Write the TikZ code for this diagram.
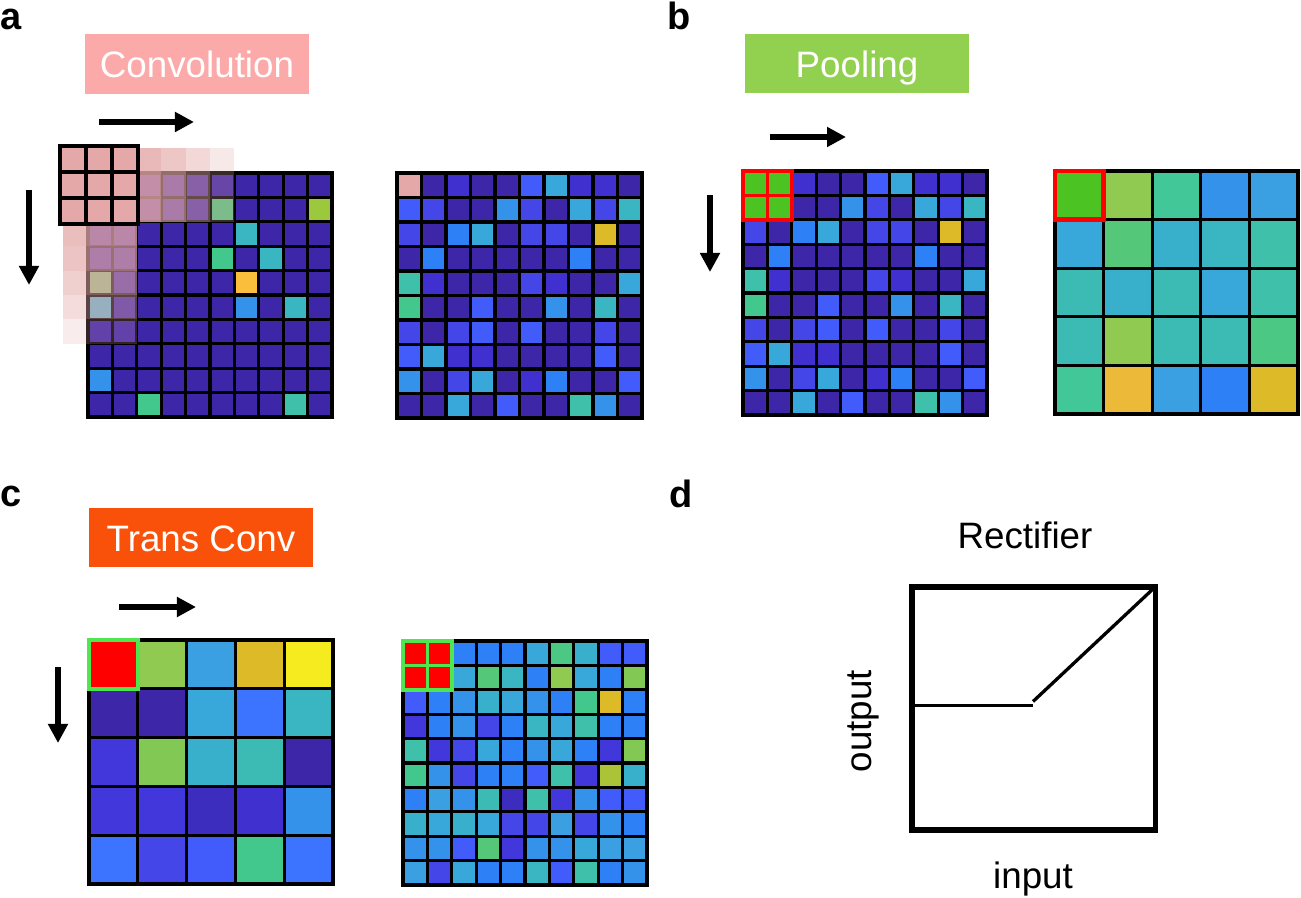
\documentclass[tikz,border=0pt]{standalone}
\usepackage{fontspec}
\setmainfont{Liberation Sans}
\usetikzlibrary{arrows.meta}
\definecolor{cD}{RGB}{62,38,168}
\definecolor{cDb}{RGB}{60,45,190}
\definecolor{cIa}{RGB}{65,48,208}
\definecolor{cIb}{RGB}{68,70,232}
\definecolor{cIc}{RGB}{65,55,218}
\definecolor{cBa}{RGB}{65,92,250}
\definecolor{cBb}{RGB}{46,128,246}
\definecolor{cBc}{RGB}{52,146,234}
\definecolor{cBd}{RGB}{60,115,255}
\definecolor{cCa}{RGB}{56,168,218}
\definecolor{cCb}{RGB}{58,160,225}
\definecolor{cCc}{RGB}{56,176,204}
\definecolor{cCd}{RGB}{58,182,194}
\definecolor{cTa}{RGB}{62,192,170}
\definecolor{cTb}{RGB}{60,187,180}
\definecolor{cGa}{RGB}{66,200,140}
\definecolor{cGb}{RGB}{84,200,120}
\definecolor{cGc}{RGB}{66,200,152}
\definecolor{cGd}{RGB}{75,200,132}
\definecolor{cLa}{RGB}{145,202,80}
\definecolor{cLb}{RGB}{130,200,85}
\definecolor{cYG}{RGB}{155,200,60}
\definecolor{cOl}{RGB}{170,195,55}
\definecolor{cY}{RGB}{220,186,40}
\definecolor{cOa}{RGB}{250,190,60}
\definecolor{cOb}{RGB}{236,186,56}
\definecolor{cYY}{RGB}{245,235,30}
\definecolor{cGr}{RGB}{75,196,35}
\definecolor{cPk}{RGB}{228,168,168}
\definecolor{cUa}{RGB}{140,195,130}
\definecolor{cUb}{RGB}{100,180,205}
\definecolor{cUc}{RGB}{90,195,130}
\definecolor{cRd}{RGB}{255,0,0}
\definecolor{cGf}{RGB}{80,230,80}
\definecolor{convpink}{RGB}{252,169,169}
\definecolor{poolgreen}{RGB}{146,208,80}
\definecolor{transorange}{RGB}{249,80,10}
\newcommand\mygrid[5]{%
  \foreach \rowl [count=\ri from 0] in {#5} {%
    \foreach \cc [count=\ki from 0] in \rowl {%
      \filldraw[cell, fill=\cc] ({#1+\ki*#3},{#2+\ri*#3}) rectangle ++(#3,#3);
    }%
  }%
  \draw[gridframe] (#1,#2) rectangle ++({#4*#3},{#4*#3});
}
\tikzset{
  cell/.style={draw=black, line width=0.033cm},
  gridframe/.style={draw=black, line width=0.045cm},
  txt/.style={font=\fontsize{10.45}{12}\selectfont},
  panel/.style={font=\fontsize{10.8}{12}\selectfont\bfseries, anchor=base west, inner sep=0},
  titlebox/.style={txt, text=white, minimum width=2.24cm, minimum height=0.595cm, inner sep=0,
    text height=0.3cm, text depth=0.02cm},
  bigarrow/.style={line width=0.06cm, -{Triangle[length=0.19cm,width=0.19cm]}},
}
\begin{document}
\begin{tikzpicture}[x=0.01cm, y=-0.01cm]
\useasboundingbox (0,0) rectangle (1301,898);
% panel labels
\node[panel] (la) at (0,30) {a};
\node[panel] (lb) at (667,30) {b};
\node[panel] (lc) at (0,507) {c};
\node[panel] (ld) at (669,508) {d};
% title boxes
\node[titlebox, fill=convpink] (conv) at (197,64) {Convolution};
\node[titlebox, fill=poolgreen] (pool) at (857,63.5) {Pooling};
\node[titlebox, fill=transorange] (trans) at (201,537.5) {Trans Conv};
% arrows
\coordinate (a1s) at (99,122); \coordinate (a1e) at (194,122);
\coordinate (a2s) at (29,190); \coordinate (a2e) at (29,285);
\coordinate (b1s) at (770,137); \coordinate (b1e) at (846,137);
\coordinate (b2s) at (710,195); \coordinate (b2e) at (710,272);
\coordinate (c1s) at (119,607); \coordinate (c1e) at (196,607);
\coordinate (c2s) at (58,667); \coordinate (c2e) at (58,743);
\draw[bigarrow] (a1s) -- (a1e);
\draw[bigarrow] (a2s) -- (a2e);
\draw[bigarrow] (b1s) -- (b1e);
\draw[bigarrow] (b2s) -- (b2e);
\draw[bigarrow] (c1s) -- (c1e);
\draw[bigarrow] (c2s) -- (c2e);
% ---------- panel a input ----------
\mygrid{88}{173}{24.4}{10}{
 {cD,cD,cD,cD,cD,cD,cD,cD,cD,cD},
 {cD,cD,cD,cD,cD,cUc,cD,cD,cD,cYG},
 {cD,cD,cD,cD,cD,cD,cCd,cD,cD,cD},
 {cD,cD,cD,cD,cD,cGa,cD,cCd,cD,cD},
 {cUa,cD,cD,cD,cD,cD,cOa,cD,cD,cD},
 {cUb,cD,cD,cD,cD,cD,cBc,cD,cCd,cD},
 {cD,cD,cD,cD,cD,cD,cD,cD,cD,cD},
 {cD,cD,cD,cD,cD,cD,cD,cD,cD,cD},
 {cBc,cD,cD,cD,cD,cD,cD,cD,cD,cD},
 {cD,cD,cGa,cD,cD,cD,cD,cD,cTa,cD}}
% sliding trail
\foreach \j/\op in {0/0.8,1/0.65,2/0.45,3/0.25}
  \fill[cPk, opacity=\op] ({136.8+\j*24.4},148) rectangle ++(24.4,73.8);
\foreach \j/\op in {0/0.75,1/0.68,2/0.55,3/0.4,4/0.22}
  \fill[cPk, opacity=\op] (63.4,{221.8+\j*24.4}) rectangle (137,{221.8+(\j+1)*24.4});
% kernel
\foreach \i in {0,1,2}
  \foreach \j in {0,1,2}
    \filldraw[cell, fill=cPk] ({60+\i*26},{146+\j*26}) rectangle ++(26,26);
\draw[gridframe] (60,146) rectangle (138,224);
% ---------- panel a output ----------
\mygrid{397}{173}{24.5}{10}{
 {cPk,cD,cIa,cD,cD,cBa,cCa,cIa,cIa,cD},
 {cBa,cIb,cD,cD,cBc,cIb,cD,cCa,cIb,cCd},
 {cIb,cD,cBb,cCa,cD,cIb,cIb,cD,cY,cD},
 {cD,cBb,cD,cD,cD,cD,cD,cBb,cD,cD},
 {cTa,cIa,cD,cD,cD,cIb,cIa,cD,cD,cCa},
 {cGa,cD,cD,cBa,cD,cD,cBc,cD,cCd,cD},
 {cIb,cD,cIb,cBa,cD,cBa,cD,cD,cIb,cD},
 {cBa,cCa,cIa,cIa,cD,cD,cD,cD,cBa,cD},
 {cBc,cD,cIb,cCa,cD,cIa,cBb,cD,cD,cBa},
 {cD,cD,cCa,cD,cBa,cD,cD,cTa,cBc,cD}}
% ---------- panel b input ----------
\mygrid{743}{171}{24.4}{10}{
 {cGr,cGr,cIa,cD,cD,cBa,cCa,cIa,cIa,cD},
 {cGr,cGr,cD,cD,cBc,cIb,cD,cCa,cIb,cCd},
 {cIb,cD,cBb,cCa,cD,cIb,cIb,cD,cY,cD},
 {cD,cBb,cD,cD,cD,cD,cD,cBb,cD,cD},
 {cTa,cIa,cD,cD,cD,cIb,cIa,cD,cD,cCa},
 {cGa,cD,cD,cBa,cD,cD,cBc,cD,cCd,cD},
 {cIb,cD,cIb,cBa,cD,cBa,cD,cD,cIb,cD},
 {cBa,cCa,cIa,cIa,cD,cD,cD,cD,cBa,cD},
 {cBc,cD,cIb,cCa,cD,cIa,cBb,cD,cD,cBa},
 {cD,cD,cCa,cD,cBa,cD,cD,cTa,cBc,cD}}
\foreach \i in {0,1}
  \foreach \j in {0,1}
    \filldraw[fill=cGr, draw=cRd, line width=0.033cm] ({743+\i*24.4},{171+\j*24.4}) rectangle ++(24.4,24.4);
\draw[draw=cRd, line width=0.045cm] (743,171) rectangle ++(48.8,48.8);
% ---------- panel b output ----------
\mygrid{1055}{171}{48.6}{5}{
 {cGr,cLa,cGc,cBc,cCb},
 {cCa,cGb,cCc,cCd,cTa},
 {cTb,cCc,cTb,cCa,cTa},
 {cTb,cLa,cTb,cTb,cGd},
 {cGc,cOb,cCb,cBb,cY}}
\draw[draw=cRd, line width=0.045cm] (1055,171) rectangle ++(48.6,48.6);
% ---------- panel c input ----------
\mygrid{89}{640}{48.8}{5}{
 {cRd,cLa,cCb,cY,cYY},
 {cD,cD,cCa,cBd,cCd},
 {cIc,cLb,cCc,cTb,cD},
 {cIc,cIc,cDb,cIa,cBc},
 {cBd,cIb,cBa,cGa,cBd}}
\draw[draw=cGf, line width=0.045cm] (89,640) rectangle ++(48.8,48.8);
% ---------- panel c output ----------
\mygrid{403}{641}{24.4}{10}{
 {cRd,cRd,cBb,cBb,cBb,cCa,cGd,cCc,cBa,cBa},
 {cRd,cRd,cCa,cGb,cCd,cBb,cLa,cCa,cBb,cLb},
 {cBa,cBb,cBc,cCc,cCa,cBc,cBb,cGa,cY,cBb},
 {cIc,cBb,cBc,cIb,cBb,cCd,cCa,cTa,cBb,cBb},
 {cTa,cIc,cIb,cCa,cBb,cBc,cCa,cBb,cIc,cLb},
 {cGa,cBc,cIb,cBb,cBb,cBa,cTa,cIc,cOl,cCc},
 {cBb,cCb,cBc,cTb,cDb,cTa,cIc,cBc,cBa,cBa},
 {cCc,cCa,cCc,cCa,cIb,cIb,cCb,cIb,cBc,cBb},
 {cBc,cBc,cBa,cGb,cIc,cBc,cBc,cCa,cCb,cCb},
 {cCb,cIb,cCa,cBb,cBb,cCd,cBa,cTa,cBb,cBc}}
\foreach \i in {0,1}
  \foreach \j in {0,1}
    \filldraw[fill=cRd, draw=cGf, line width=0.033cm] ({403+\i*24.4},{641+\j*24.4}) rectangle ++(24.4,24.4);
\draw[draw=cGf, line width=0.045cm] (403,641) rectangle ++(48.8,48.8);
% ---------- panel d ----------
\node[txt, anchor=base] (rect) at (1025,549) {Rectifier};
\node[txt, anchor=base] (inp) at (1033,888) {input};
\node[txt, anchor=base, rotate=90] (outp) at (871.5,721) {output};
\coordinate (bxa) at (912,587);
\coordinate (bxb) at (1155.5,830);
\draw[line width=0.055cm] (bxa) rectangle (bxb);
\coordinate (r0) at (912,705.5);
\coordinate (r1) at (1033,705.5);
\coordinate (r2) at (1033,701.5);
\coordinate (r3) at (1153.5,588.5);
\draw[line width=0.033cm] (r0) -- (r1);
\draw[line width=0.033cm] (r2) -- (r3);
\end{tikzpicture}
\end{document}
